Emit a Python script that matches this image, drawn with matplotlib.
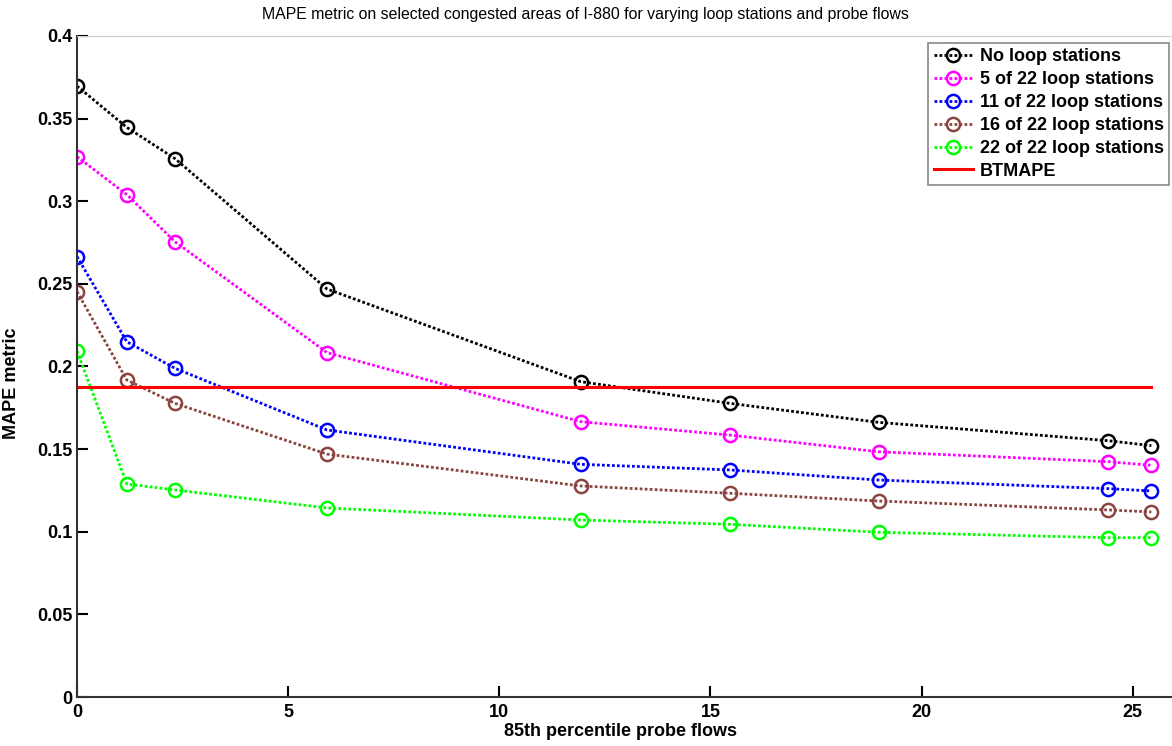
import matplotlib
matplotlib.use("Agg")
from matplotlib import pyplot as plt

plt.rcParams['font.family'] = ['Liberation Sans', 'DejaVu Sans']

# data
probe_flows = [0, 1.18, 2.32, 5.92, 11.93, 15.46, 18.98, 24.42, 25.44]
no_loop = [0.3697, 0.3447, 0.3258, 0.2469, 0.1908, 0.1777, 0.1662, 0.1551, 0.1521]
loop_5 = [0.3270, 0.3040, 0.2755, 0.2084, 0.1666, 0.1585, 0.1484, 0.1424, 0.1402]
loop_11 = [0.2665, 0.2150, 0.1989, 0.1616, 0.1408, 0.1374, 0.1313, 0.1261, 0.1247]
loop_16 = [0.2453, 0.1918, 0.1777, 0.1470, 0.1277, 0.1233, 0.1186, 0.1132, 0.1120]
loop_22 = [0.2094, 0.1289, 0.1253, 0.1144, 0.1071, 0.1045, 0.0997, 0.0964, 0.0964]
btmape = 0.1874

series = [
    ("No loop stations", no_loop, "black"),
    ("5 of 22 loop stations", loop_5, "#ff00ff"),
    ("11 of 22 loop stations", loop_11, "#0000ff"),
    ("16 of 22 loop stations", loop_16, "#8b4540"),
    ("22 of 22 loop stations", loop_22, "#00ff00"),
]

W, H = 1172, 746
fig = plt.figure(figsize=(W / 100, H / 100), dpi=100)
ax = fig.add_axes([77 / W, 49 / H, 1098 / W, 661 / H])

for label, vals, col in series:
    ax.plot(probe_flows, vals, linestyle=(0, (1.0, 0.8)), color=col, lw=2.0,
            marker='o', markersize=9.5, markerfacecolor='none',
            markeredgewidth=1.8, markeredgecolor=col, label=label)
ax.plot([probe_flows[0], probe_flows[-1]], [btmape, btmape], color='red', lw=2.2, label="BTMAPE")

ax.set_xlim(0, 26)
ax.set_ylim(0, 0.4)
ax.set_xticks([0, 5, 10, 15, 20, 25])
ax.set_yticks([0, 0.05, 0.1, 0.15, 0.2, 0.25, 0.3, 0.35, 0.4])
ax.set_yticklabels(["0", "0.05", "0.1", "0.15", "0.2", "0.25", "0.3", "0.35", "0.4"])
ax.tick_params(direction='in', length=8, width=1.5, labelsize=13)
ax.tick_params(axis='x', pad=5)
ax.tick_params(axis='y', pad=3)
for t in ax.get_xticklabels() + ax.get_yticklabels():
    t.set_fontweight('bold')

for s in ['left', 'bottom']:
    ax.spines[s].set_linewidth(1.5)
    ax.spines[s].set_color('#333333')
ax.spines['top'].set_color('#cccccc')
ax.spines['right'].set_visible(False)

ax.set_xlabel("85th percentile probe flows", fontsize=13, fontweight='bold')
ax.xaxis.set_label_coords(0.495, -0.040)
ax.set_ylabel("MAPE metric", fontsize=13, fontweight='bold')
ax.yaxis.set_label_coords(-0.052, 0.475)
ax.text(0.4627, 1.033, "MAPE metric on selected congested areas of I-880 for varying loop stations and probe flows",
        transform=ax.transAxes, ha='center', va='center', fontsize=11.4)

leg = ax.legend(loc='upper right', bbox_to_anchor=(0.9945, 0.99),
                prop={'weight': 'bold', 'size': 13}, handlelength=2.2, handletextpad=0.35,
                borderpad=0.3, borderaxespad=0, labelspacing=0.33, fancybox=False, framealpha=1)
leg.get_frame().set_edgecolor('#888888')
leg.get_frame().set_linewidth(1.2)

fig.savefig("out.png", dpi=100)
